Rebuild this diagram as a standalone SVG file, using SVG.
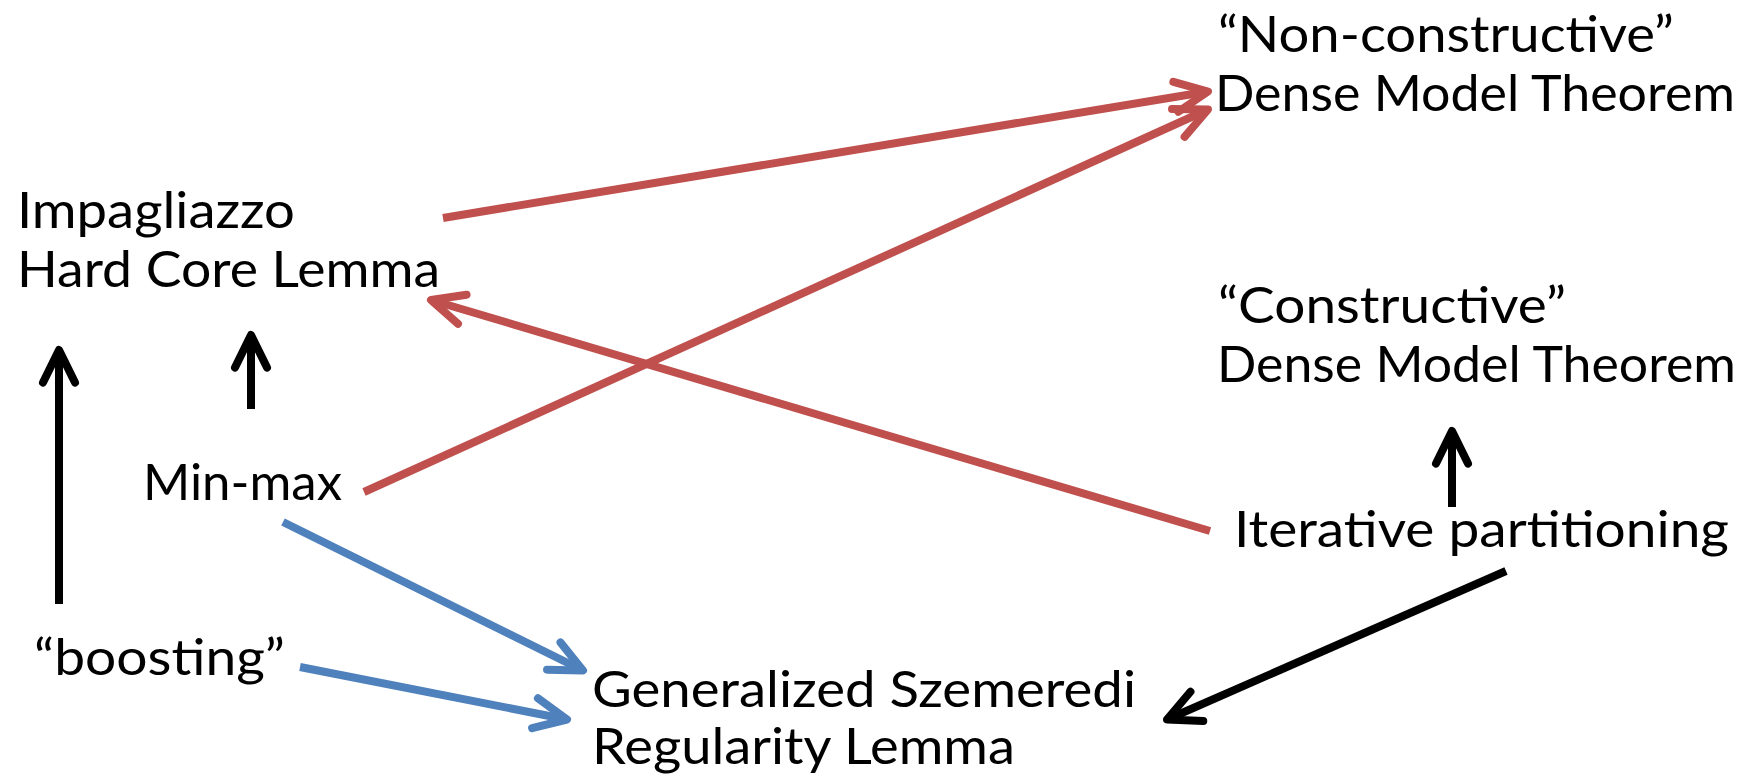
<svg xmlns="http://www.w3.org/2000/svg" width="1754" height="776" viewBox="0 0 1754 776">
<defs>
<style>
text{font-family:Lato,"Open Sans","Liberation Sans",sans-serif;font-size:51px;fill:#000}
.c{fill:none;stroke-linecap:butt;stroke-linejoin:round}
.red{stroke:#C0504D;stroke-width:8}
.blue{stroke:#4F81BD;stroke-width:8}
.blk{stroke:#000;stroke-width:8}
</style>
<marker id="mr" markerUnits="userSpaceOnUse" orient="auto" markerWidth="60" markerHeight="60" refX="0" refY="0" viewBox="-45 -30 60 60" overflow="visible">
<path d="M-32.6,-15.2 L0,0 L-32.6,15.2" fill="none" stroke="#C0504D" stroke-width="8" stroke-linecap="round" stroke-linejoin="round"/>
</marker>
<marker id="mb" markerUnits="userSpaceOnUse" orient="auto" markerWidth="60" markerHeight="60" refX="0" refY="0" viewBox="-45 -30 60 60" overflow="visible">
<path d="M-32.6,-15.2 L0,0 L-32.6,15.2" fill="none" stroke="#4F81BD" stroke-width="8" stroke-linecap="round" stroke-linejoin="round"/>
</marker>
<marker id="mk" markerUnits="userSpaceOnUse" orient="auto" markerWidth="60" markerHeight="60" refX="0" refY="0" viewBox="-45 -30 60 60" overflow="visible">
<path d="M-32.6,-16 L0,0 L-32.6,16" fill="none" stroke="#000" stroke-width="8" stroke-linecap="round" stroke-linejoin="round"/>
</marker>
</defs>
<rect width="1754" height="776" fill="#fff"/>
<g id="connectors">
<line class="c red" x1="443" y1="218" x2="1208" y2="91.5" marker-end="url(#mr)"/>
<line class="c red" x1="364" y1="492" x2="1208" y2="109.5" marker-end="url(#mr)"/>
<line class="c red" x1="1210" y1="531" x2="431" y2="300" marker-end="url(#mr)"/>
<line class="c blue" x1="283" y1="522" x2="583" y2="670.5" marker-end="url(#mb)"/>
<line class="c blue" x1="300" y1="667" x2="567" y2="719.5" marker-end="url(#mb)"/>
<line class="c blk" x1="1506" y1="571" x2="1167" y2="719.5" marker-end="url(#mk)"/>
<line class="c blk" x1="59" y1="604" x2="59" y2="350" marker-end="url(#mk)"/>
<line class="c blk" x1="251" y1="409" x2="251" y2="335" marker-end="url(#mk)"/>
<line class="c blk" x1="1452" y1="507" x2="1452" y2="431" marker-end="url(#mk)"/>
</g>
<g id="node-nonconstructive">
<text x="1218" y="52" textLength="456" lengthAdjust="spacingAndGlyphs">“Non-constructive”</text>
<text x="1215" y="111" textLength="520" lengthAdjust="spacingAndGlyphs">Dense Model Theorem</text>
</g>
<g id="node-constructive">
<text x="1218" y="323" textLength="348" lengthAdjust="spacingAndGlyphs">“Constructive”</text>
<text x="1217" y="382" textLength="519" lengthAdjust="spacingAndGlyphs">Dense Model Theorem</text>
</g>
<g id="node-impagliazzo">
<text x="17" y="228" textLength="278" lengthAdjust="spacingAndGlyphs">Impagliazzo</text>
<text x="17" y="287" textLength="423" lengthAdjust="spacingAndGlyphs">Hard Core Lemma</text>
</g>
<g id="node-minmax">
<text x="143" y="500" textLength="199" lengthAdjust="spacingAndGlyphs">Min-max</text>
</g>
<g id="node-boosting">
<text x="34" y="675" textLength="251" lengthAdjust="spacingAndGlyphs">“boosting”</text>
</g>
<g id="node-szemeredi">
<text x="592" y="707" textLength="544" lengthAdjust="spacingAndGlyphs">Generalized Szemeredi</text>
<text x="592" y="764" textLength="423" lengthAdjust="spacingAndGlyphs">Regularity Lemma</text>
</g>
<g id="node-iterative">
<text x="1234" y="547" textLength="495" lengthAdjust="spacingAndGlyphs">Iterative partitioning</text>
</g>
</svg>
